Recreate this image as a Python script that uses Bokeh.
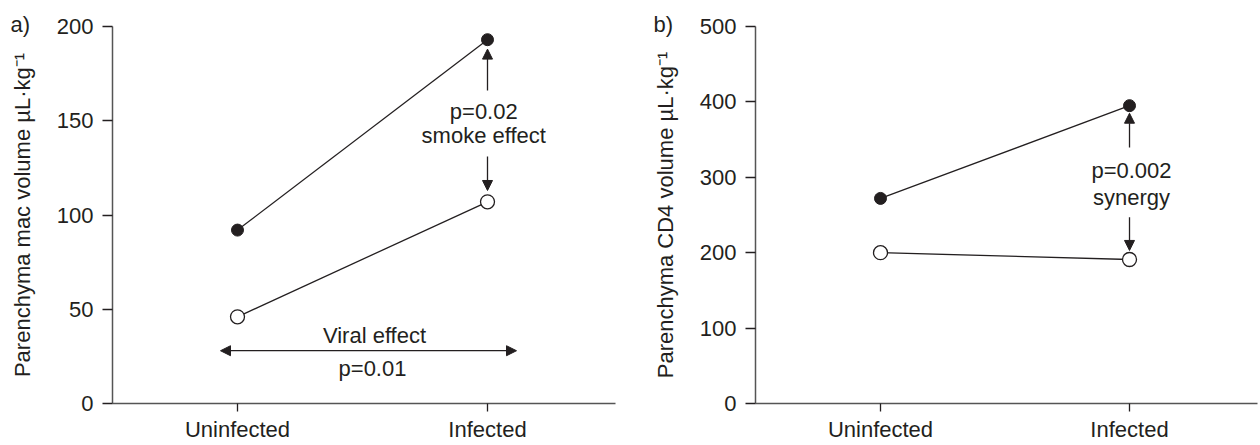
from bokeh.plotting import figure
from bokeh.models import Arrow, NormalHead, Label, FixedTicker
from bokeh.layouts import row
from bokeh.embed import file_html
from bokeh.resources import INLINE

# ---------------- data ----------------
categories = ["Uninfected", "Infected"]
cat_pos = [0, 1]

# panel a: parenchyma macrophage volume (uL/kg)
mac_smoke = [92, 193]   # filled circles
mac_air = [46, 107]     # open circles
mac_ticks = [0, 50, 100, 150, 200]

# panel b: parenchyma CD4 volume (uL/kg)
cd4_smoke = [272, 395]  # filled circles
cd4_air = [200, 191]    # open circles
cd4_ticks = [0, 100, 200, 300, 400, 500]

# annotation texts
a_smoke_text = ["p=0.02", "smoke effect"]
a_viral_text = ["Viral effect", "p=0.01"]
b_syn_text = ["p=0.002", "synergy"]

FONT = "Liberation Sans"
INK = "#231f20"
FS = "22px"
H = 445


def make_panel(width, x_range, y_range, ticks, ylabel, letter, mbl, mbt, mbb, mbr):
    p = figure(width=width, height=H, x_range=x_range, y_range=y_range,
               output_backend="svg", toolbar_location=None,
               min_border_left=mbl, min_border_top=mbt,
               min_border_bottom=mbb, min_border_right=mbr)
    p.grid.visible = False
    p.outline_line_color = None
    p.background_fill_color = "white"
    p.border_fill_color = "white"

    # panel letter as a left-aligned title pulled down beside the top tick
    p.title.text = letter
    p.title.align = "left"
    p.title.vertical_align = "bottom"
    p.title.offset = -102
    p.title.standoff = -20
    p.title.text_font = FONT
    p.title.text_font_size = FS
    p.title.text_font_style = "normal"
    p.title.text_color = INK

    xa = p.xaxis[0]
    xa.ticker = FixedTicker(ticks=cat_pos)
    xa.major_label_overrides = {c: n for c, n in zip(cat_pos, categories)}
    xa.major_tick_in = 0
    xa.major_tick_out = 8
    xa.minor_tick_out = 0
    xa.minor_tick_in = 0
    xa.major_label_standoff = 5
    xa.axis_line_color = "#555555"
    xa.axis_line_width = 1.5
    xa.major_tick_line_color = INK
    xa.major_tick_line_width = 1.3
    xa.major_label_text_font = FONT
    xa.major_label_text_font_size = FS
    xa.major_label_text_color = INK

    ya = p.yaxis[0]
    ya.ticker = FixedTicker(ticks=ticks)
    ya.major_tick_in = 0
    ya.major_tick_out = 10
    ya.minor_tick_out = 0
    ya.minor_tick_in = 0
    ya.major_label_standoff = 9
    ya.axis_line_color = "#555555"
    ya.axis_line_width = 1.5
    ya.major_tick_line_color = INK
    ya.major_tick_line_width = 1.3
    ya.major_label_text_font = FONT
    ya.major_label_text_font_size = FS
    ya.major_label_text_color = INK
    ya.axis_label = ylabel
    ya.axis_label_text_font = FONT
    ya.axis_label_text_font_size = FS
    ya.axis_label_text_font_style = "normal"
    ya.axis_label_text_color = INK
    ya.axis_label_standoff = 19
    return p


def add_series(p, smoke, air):
    p.line(cat_pos, smoke, line_color=INK, line_width=1.3)
    p.line(cat_pos, air, line_color=INK, line_width=1.3)
    p.scatter(cat_pos, smoke, size=12, fill_color=INK, line_color=INK, line_width=1)
    p.scatter(cat_pos, air, size=14, fill_color="white", line_color=INK, line_width=1.3)


def add_text(p, x, y, text, align="center", baseline="middle"):
    p.add_layout(Label(x=x, y=y, text=text, text_font=FONT, text_font_size=FS,
                       text_color=INK, text_align=align, text_baseline=baseline))


def add_arrow(p, x0, y0, x1, y1):
    head = NormalHead(size=10, fill_color=INK, line_color=INK, line_width=1)
    p.add_layout(Arrow(end=head, x_start=x0, y_start=y0, x_end=x1, y_end=y1,
                       line_color=INK, line_width=1.3))


# ---------------- panel a ----------------
pa = make_panel(648, (-0.5, 1.512), (0, 200), mac_ticks,
                "Parenchyma mac volume \u00b5L\u00b7kg\u207b\u00b9", "a)", 112, 26, 40, 33)
add_series(pa, mac_smoke, mac_air)
add_arrow(pa, 1.0, 166, 1.0, 188)
add_arrow(pa, 1.0, 131, 1.0, 113)
add_text(pa, 0.985, 155, a_smoke_text[0])
add_text(pa, 0.985, 142, a_smoke_text[1])
add_arrow(pa, 0.55, 28, -0.068, 28)
add_arrow(pa, 0.55, 28, 1.116, 28)
add_text(pa, 0.548, 36, a_viral_text[0])
add_text(pa, 0.54, 18.8, a_viral_text[1])

# ---------------- panel b ----------------
pb = make_panel(612, (-0.502, 1.514), (0, 500), cd4_ticks,
                "Parenchyma CD4 volume \u00b5L\u00b7kg\u207b\u00b9", "b)", 107, 25, 42, 3)
add_series(pb, cd4_smoke, cd4_air)
add_arrow(pb, 1.0, 339.5, 1.0, 385)
add_arrow(pb, 1.0, 247, 1.0, 203)
add_text(pb, 1.008, 309, b_syn_text[0])
add_text(pb, 1.008, 273.5, b_syn_text[1])

layout = row(pa, pb)
open("out.html", "w").write(file_html(layout, INLINE))
